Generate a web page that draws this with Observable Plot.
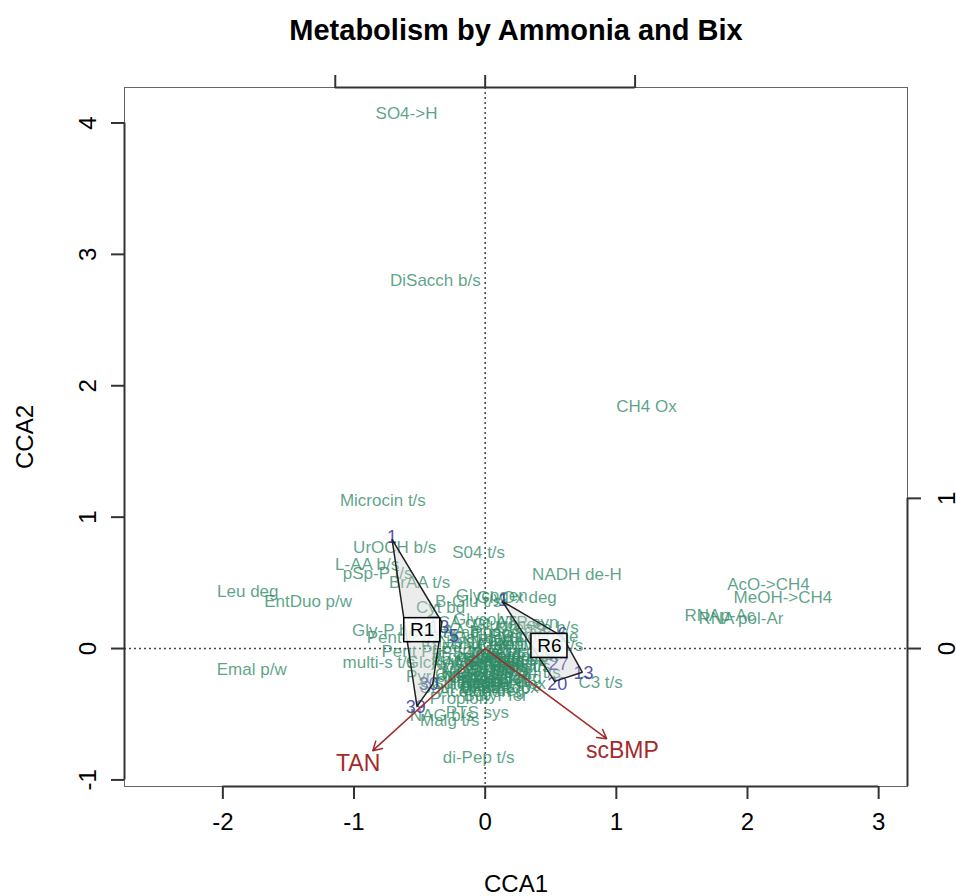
<!DOCTYPE html>
<html><head><meta charset="utf-8">
<script src="https://cdn.jsdelivr.net/npm/d3@7"></script>
<script src="https://cdn.jsdelivr.net/npm/@observablehq/plot@0.6"></script>
<style>body{margin:0;background:#fff}</style>
</head><body><div id="chart"></div>
<script>
const title = "Metabolism by Ammonia and Bix";
const xLabel = "CCA1";
const yLabel = "CCA2";
const xTicks = [-2, -1, 0, 1, 2, 3];
const yTicks = [-1, 0, 1, 2, 3, 4];
const arrowTicksTop = [-1, 0, 1];
const arrowTicksRight = [0, 1];

// species scores (readable labels)
const speciesNames = [
  "SO4->H","DiSacch b/s","CH4 Ox","Microcin t/s","UrOCH b/s","S04 t/s","L-AA b/s","pSp-P t/s",
  "BrAA t/s","NADH de-H","Leu deg","EntDuo p/w","Emal p/w","AcO->CH4","MeOH->CH4","RNA pol-Ar",
  "RNAp-Ac","Glycogen","GlyOx deg","Cyt bd","B-Glu t/s","Gly-P b/s","Pent-P t/s","Pent Ph",
  "multi-s t/s","GlcNAc t/s","Pyr ox","Shut OH","Fer ox","PTS sys","Malg t/s","NAG b/s",
  "di-Pep t/s","Urease b/s","Nitr t/s","Aros t/s","C3 t/s"
];
const speciesX = [
  -0.60,-0.38,1.23,-0.78,-0.69,-0.05,-0.90,-0.82,
  -0.50,0.70,-1.81,-1.35,-1.78,2.16,2.27,1.95,
  1.79,0.05,0.24,-0.34,-0.13,-0.75,-0.62,-0.56,
  -0.81,-0.30,-0.42,-0.25,0.28,-0.06,-0.27,-0.33,
  -0.05,0.40,0.56,0.28,0.88
];
const speciesY = [
  4.07,2.80,1.84,1.13,0.77,0.73,0.64,0.57,
  0.50,0.56,0.43,0.36,-0.16,0.49,0.39,0.23,
  0.25,0.40,0.39,0.31,0.36,0.14,0.08,-0.02,
  -0.11,-0.11,-0.21,-0.30,-0.27,-0.49,-0.55,-0.51,
  -0.83,0.16,0.02,-0.14,-0.26
];
// species scores crowded around the origin (labels unreadable in the reference, estimated)
const clusterNames = [
  "TCA cyc","Glycolys","Gluconeo","ATP syn","Fatty ac","AA bios","Purine","Pyrimid",
  "Ribosome","tRNA syn","DNA rep","Cell div","Peptidogl","LPS bios","Flagella","Chemotax",
  "Fe t/s","Zn t/s","Mg t/s","K t/s","Na t/s","Mo t/s","Co t/s","Ni t/s",
  "PO4 t/s","NH4 t/s","Urea deg","Nit red","Sulf red","H2ase","Ferredox","Acetogen",
  "Butyr fer","Propion","Lact fer","EtOH fer","Formate","CO dehyd","Biotin","Folate",
  "Cobalam","Thiamin","Ribofl","Heme bio","Quinone","Glutath","Oxid str","Osmo prot",
  "Sporul","Pilus","Secr sys","Sig pep","Chaperon","Protease","Glyc t/s","Mal t/s",
  "Xyl deg","Ara deg","Man deg","Gal deg"
];
const clusterX = [
  -0.20,0.00,0.18,0.32,-0.28,-0.10,0.08,0.25,
  0.42,-0.22,-0.02,0.15,0.33,-0.15,0.05,0.22,
  0.40,-0.25,-0.05,0.12,0.30,-0.15,0.02,0.18,
  0.36,-0.10,0.08,0.24,-0.18,0.00,0.15,-0.08,
  0.08,-0.20,0.10,-0.08,0.00,0.06,-0.03,0.12,
  -0.12,0.04,0.20,-0.06,0.10,0.26,-0.16,0.02,
  0.14,-0.04,0.18,0.08,-0.10,0.22,0.00,0.12,
  -0.20,0.30,0.05,-0.02
];
const clusterY = [
  0.20,0.22,0.18,0.20,0.12,0.13,0.12,0.10,
  0.09,0.05,0.04,0.03,0.03,-0.03,-0.04,-0.05,
  -0.06,-0.08,-0.10,-0.10,-0.09,-0.15,-0.16,-0.17,
  -0.18,-0.22,-0.23,-0.22,-0.27,-0.28,-0.30,-0.33,
  -0.36,-0.38,-0.07,0.00,-0.12,-0.20,-0.25,0.06,
  -0.06,-0.08,-0.12,-0.18,-0.15,-0.14,-0.20,-0.22,
  -0.25,-0.30,-0.28,-0.10,-0.26,-0.08,-0.18,-0.02,
  -0.12,-0.02,-0.32,0.08
];

// site scores
const siteLabels = ["1","13","5","30","39","1","6","27","13","20"];
const siteX = [-0.71,-0.35,-0.24,-0.43,-0.53,0.14,0.59,0.56,0.75,0.55];
const siteY = [0.85,0.16,0.09,-0.27,-0.45,0.37,0.11,-0.12,-0.19,-0.27];

// convex hulls of the two groups
const hullR1X = [-0.71,-0.33,-0.40,-0.52];
const hullR1Y = [0.83,0.20,-0.27,-0.44];
const hullR6X = [0.13,0.59,0.74,0.53];
const hullR6Y = [0.36,0.09,-0.18,-0.25];
const hullNames = ["R1","R6"];
const hullLabelX = [-0.48,0.49];
const hullLabelY = [0.14,0.02];

// environmental vectors (biplot arrow units)
const envNames = ["TAN","scBMP"];
const envX = [-0.75,0.81];
const envY = [-0.68,-0.60];

// ---- build tables ----
const species = speciesNames.map((n,i)=>({name:n,x:speciesX[i],y:speciesY[i]}))
  .concat(clusterNames.map((n,i)=>({name:n,x:clusterX[i],y:clusterY[i]})));
const sites = siteLabels.map((n,i)=>({name:n,x:siteX[i],y:siteY[i]}));
const hullPts = [];
[[hullR1X,hullR1Y,"R1"],[hullR6X,hullR6Y,"R6"]].forEach(([xs,ys,g])=>{
  xs.forEach((x,i)=>hullPts.push({g,x,y:ys[i]}));
  hullPts.push({g,x:xs[0],y:ys[0]});
});
const hullLabels = hullNames.map((n,i)=>({name:n,x:hullLabelX[i],y:hullLabelY[i]}));
const arrowMul = 1.143;
const env = envNames.map((n,i)=>({name:n,x:envX[i]*arrowMul,y:envY[i]*arrowMul}));

const xDomain = [-2.75, 3.22];
const yDomain = [-1.05, 4.27];
const green = "#2f8a66";
const red = "#a52a2a";

const chart = Plot.plot({
  width: 956, height: 896,
  marginLeft: 124, marginRight: 49, marginTop: 87, marginBottom: 110,
  x: {domain: xDomain},
  y: {domain: yDomain},
  style: {fontFamily: "'Liberation Sans', Arial, sans-serif", background: "white", color: "black"},
  marks: [
    Plot.ruleX([0], {stroke: "#444", strokeDasharray: "2,3", strokeWidth: 1.5}),
    Plot.ruleY([0], {stroke: "#444", strokeDasharray: "2,3", strokeWidth: 1.5}),
    Plot.text(species, {x: "x", y: "y", text: "name", fill: green, fillOpacity: 0.78, fontSize: 17}),
    Plot.text(sites, {x: "x", y: "y", text: "name", fill: "#3c3ca6", fillOpacity: 0.9, fontSize: 18}),
    Plot.line(hullPts, {x: "x", y: "y", z: "g", fill: "#c8c8c8", fillOpacity: 0.35, stroke: "#222", strokeWidth: 1.5}),
    Plot.arrow(env, {x1: () => 0, y1: () => 0, x2: "x", y2: "y", stroke: red, strokeWidth: 1.5, headLength: 10}),
    Plot.text(env, {x: d => d.x * 1.13, y: d => d.y * 1.13, text: "name", fill: red, fontSize: 23}),
    Plot.rect(hullLabels, {x1: "x", x2: "x", y1: "y", y2: "y", insetLeft: -18, insetRight: -18, insetTop: -12, insetBottom: -12, fill: "white", fillOpacity: 0.85, stroke: "black", strokeWidth: 1.5}),
    Plot.text(hullLabels, {x: "x", y: "y", text: "name", fill: "black", fontSize: 19}),
    Plot.frame({stroke: "#666", strokeWidth: 1}),
    // axes
    Plot.axisX({ticks: xTicks, tickSize: 13, tickPadding: 13, fontSize: 24, tickFormat: d => String(d), label: null, stroke: "#333", strokeWidth: 2}),
    Plot.axisX({anchor: "top", ticks: arrowTicksTop.map(d => d * arrowMul), tickSize: 13, tickFormat: () => "", label: null, stroke: "#333", strokeWidth: 2}),
    Plot.axisY({ticks: yTicks, tickSize: 13, tickFormat: () => "", label: null, stroke: "#333", strokeWidth: 2}),
    Plot.axisY({anchor: "right", ticks: arrowTicksRight.map(d => d * arrowMul), tickSize: 13, tickFormat: () => "", label: null, stroke: "#333", strokeWidth: 2}),
    Plot.ruleY([yDomain[0]], {x1: () => xTicks[0], x2: () => xTicks[xTicks.length-1], stroke: "#333", strokeWidth: 2}),
    Plot.ruleX([xDomain[0]], {y1: () => yTicks[0], y2: () => yTicks[yTicks.length-1], stroke: "#333", strokeWidth: 2}),
    Plot.ruleY([yDomain[1]], {x1: () => arrowTicksTop[0]*arrowMul, x2: () => arrowTicksTop[2]*arrowMul, stroke: "#333", strokeWidth: 2}),
    Plot.ruleX([xDomain[1]], {y1: () => yDomain[0], y2: () => arrowTicksRight[1]*arrowMul, stroke: "#333", strokeWidth: 2}),
    Plot.text(yTicks, {y: d => d, frameAnchor: "left", dx: -36, rotate: -90, text: d => String(d), textAnchor: "middle", lineAnchor: "middle", fontSize: 24}),
    Plot.text(arrowTicksRight, {y: d => d * arrowMul, frameAnchor: "right", dx: 40, rotate: -90, text: d => String(d), textAnchor: "middle", lineAnchor: "middle", fontSize: 24}),
    // titles
    Plot.text([title], {text: d => d, frameAnchor: "top", dy: -57, fontSize: 29, fontWeight: "bold", lineAnchor: "middle"}),
    Plot.text([xLabel], {text: d => d, frameAnchor: "bottom", dy: 98, fontSize: 24, lineAnchor: "middle"}),
    Plot.text([yLabel], {text: d => d, frameAnchor: "left", dx: -99, rotate: -90, textAnchor: "middle", lineAnchor: "middle", fontSize: 24})
  ]
});
document.getElementById("chart").append(chart);
</script>
</body></html>
